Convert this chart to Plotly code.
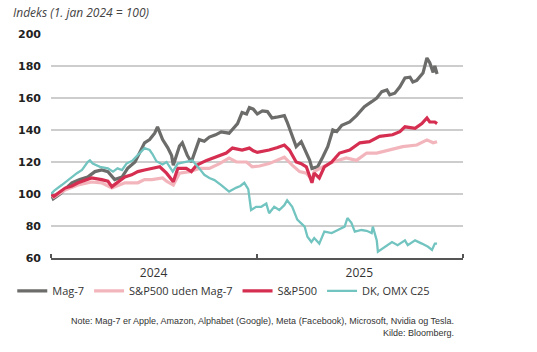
import plotly.graph_objects as go

# ---------------- data ----------------
mag7_dates = ["2024-01-01","2024-01-05","2024-01-17","2024-01-28","2024-02-07","2024-02-21","2024-03-06","2024-03-19",
              "2024-03-31","2024-04-11","2024-04-23","2024-05-06","2024-05-16","2024-05-29","2024-06-06","2024-06-15",
              "2024-06-24","2024-07-03","2024-07-08","2024-07-17","2024-07-26","2024-08-02","2024-08-05","2024-08-16",
              "2024-08-21","2024-08-30","2024-09-06","2024-09-12","2024-09-20","2024-09-29","2024-10-08","2024-10-19",
              "2024-10-29","2024-11-12","2024-11-27","2024-12-05","2024-12-13","2024-12-18","2024-12-25","2025-01-01",
              "2025-01-10","2025-01-19","2025-01-27","2025-02-04","2025-02-18","2025-02-23","2025-03-02","2025-03-11",
              "2025-03-20","2025-03-26","2025-04-04","2025-04-08","2025-04-18","2025-04-27","2025-05-06","2025-05-15",
              "2025-05-22","2025-05-31","2025-06-14","2025-06-26","2025-07-10","2025-07-23","2025-08-01","2025-08-10",
              "2025-08-19","2025-08-24","2025-09-02","2025-09-11","2025-09-20","2025-09-29","2025-10-04","2025-10-11",
              "2025-10-22","2025-10-29","2025-11-03","2025-11-09","2025-11-12","2025-11-16"]
mag7_values = [100, 97, 100, 104, 107, 109, 110.6, 114,
               115, 114, 109, 110.6, 116, 120, 126, 132,
               134, 138, 142, 134, 129, 124, 118, 130,
               132, 124, 120, 126, 134, 133, 135.6, 137,
               138.8, 138, 144, 151, 150, 154, 153, 150,
               152, 151.5, 147.5, 148, 149, 145, 138, 129.6,
               132.7, 127.5, 121, 116, 117, 123, 129.6, 140,
               139, 143, 145, 149, 154.6, 157.7, 160, 164,
               165, 162, 163, 167, 172.5, 173, 170, 171,
               175.6, 185, 182, 176, 180, 175]

sp_dates = ["2024-01-01","2024-01-06","2024-01-26","2024-02-07","2024-02-18","2024-03-01","2024-03-13","2024-03-31",
            "2024-04-11","2024-04-18","2024-04-28","2024-05-11","2024-05-23","2024-06-03","2024-06-15","2024-06-28",
            "2024-07-12","2024-07-24","2024-08-05","2024-08-13","2024-08-28","2024-09-06","2024-09-15","2024-10-03",
            "2024-10-20","2024-11-07","2024-11-18","2024-12-05","2024-12-18","2024-12-25","2025-01-01","2025-01-10",
            "2025-01-22","2025-02-06","2025-02-18","2025-02-27","2025-03-11","2025-03-20","2025-03-29","2025-04-08",
            "2025-04-12","2025-04-21","2025-04-30","2025-05-13","2025-05-27","2025-06-14","2025-07-02","2025-07-19",
            "2025-08-06","2025-08-29","2025-09-11","2025-09-20","2025-10-08","2025-10-20","2025-10-29","2025-11-03",
            "2025-11-12","2025-11-16"]
sp_values = [100, 98.5, 103.7, 105, 107, 108.5, 110, 109,
             108, 104.6, 107, 110.6, 112, 114, 115, 116,
             117, 113, 107.7, 116, 116, 114, 118, 121,
             123, 125.6, 128.7, 127.5, 128.7, 127, 126, 126.5,
             127.5, 129, 130.6, 127.5, 120, 119, 117, 107,
             113, 110, 117, 120, 125.6, 127.5, 132, 132.7,
             136, 137, 139, 142, 141, 144, 147.5, 145,
             145, 144]

exmag_dates = ["2024-01-01","2024-01-06","2024-01-26","2024-02-18","2024-03-13","2024-03-31","2024-04-18","2024-05-11",
               "2024-06-03","2024-06-15","2024-06-28","2024-07-17","2024-07-24","2024-08-05","2024-08-16","2024-09-03",
               "2024-09-20","2024-10-08","2024-10-26","2024-11-12","2024-11-25","2024-12-13","2024-12-23","2025-01-05",
               "2025-01-22","2025-02-18","2025-03-04","2025-03-17","2025-03-29","2025-04-08","2025-04-12","2025-04-27",
               "2025-05-15","2025-06-08","2025-06-26","2025-07-14","2025-08-01","2025-08-24","2025-09-16","2025-10-11",
               "2025-10-29","2025-11-09","2025-11-16"]
exmag_values = [100, 98, 102.5, 105.6, 107.5, 107, 103.7, 107,
                107, 109, 109, 110, 108, 105.6, 113, 114,
                116, 116, 119, 122.5, 120, 120, 117, 117.5,
                119, 123, 118, 114, 113, 109, 114, 117,
                120, 122.5, 121, 125.6, 125.6, 127.5, 129.6, 130.6,
                133.8, 132, 132.7]

c25_dates = ["2024-01-01","2024-01-08","2024-01-20","2024-02-07","2024-02-16","2024-02-25","2024-03-06","2024-03-10",
             "2024-03-15","2024-03-28","2024-04-11","2024-04-20","2024-04-28","2024-05-06","2024-05-14","2024-05-25",
             "2024-06-03","2024-06-15","2024-06-24","2024-06-29","2024-07-06","2024-07-17","2024-07-24","2024-08-04",
             "2024-08-13","2024-08-28","2024-09-08","2024-09-20","2024-09-29","2024-10-08","2024-10-17","2024-10-29",
             "2024-11-12","2024-11-25","2024-12-02","2024-12-09","2024-12-16","2024-12-21","2024-12-30","2025-01-08",
             "2025-01-17","2025-01-22","2025-01-31","2025-02-09","2025-02-18","2025-02-23","2025-03-04","2025-03-13",
             "2025-03-26","2025-03-31","2025-04-07","2025-04-12","2025-04-21","2025-04-30","2025-05-13","2025-05-24",
             "2025-06-05","2025-06-10","2025-06-17","2025-06-23","2025-07-05","2025-07-14","2025-07-23","2025-07-25",
             "2025-08-01","2025-08-03","2025-08-15","2025-08-28","2025-09-07","2025-09-20","2025-09-25","2025-10-08",
             "2025-10-20","2025-10-31","2025-11-07","2025-11-12","2025-11-16"]
c25_values = [100, 102.5, 105.6, 110.6, 113, 115, 120, 121,
              119, 117, 116, 114, 116, 115, 119, 121,
              124.4, 128.7, 127.5, 125, 120.5, 118.5, 120, 114,
              119, 120, 121, 116, 112, 110, 108.7, 105.6,
              101.5, 104, 105, 107, 103, 90, 92, 92,
              94, 88, 92, 90, 93, 96, 92, 84,
              79.6, 73.3, 70, 72.5, 69, 76.5, 75.6, 77.5,
              79.6, 85, 82, 76.5, 77.5, 77, 75.6, 79.6,
              71, 64, 67, 70, 68, 71, 68, 71,
              69, 67, 65, 69, 69]

series_names = ["Mag-7", "S&P500 uden Mag-7", "S&P500", "DK, OMX C25"]
year_ticks = ["2024-07-01", "2025-07-01"]
year_labels = ["2024", "2025"]

# ---------------- figure ----------------
fig = go.Figure()
fig.add_trace(go.Scatter(x=mag7_dates, y=mag7_values, mode="lines", name=series_names[0],
                         line=dict(color="#6c6c6b", width=3.2)))
fig.add_trace(go.Scatter(x=exmag_dates, y=exmag_values, mode="lines", name=series_names[1],
                         line=dict(color="#f3b5bc", width=3.2)))
fig.add_trace(go.Scatter(x=sp_dates, y=sp_values, mode="lines", name=series_names[2],
                         line=dict(color="#d52e50", width=3.2)))
fig.add_trace(go.Scatter(x=c25_dates, y=c25_values, mode="lines", name=series_names[3],
                         line=dict(color="#72c4c0", width=2.3)))

fig.update_layout(
    width=537, height=352,
    margin=dict(l=51, r=74, t=34, b=94),
    paper_bgcolor="white", plot_bgcolor="white",
    font=dict(family="Open Sans, Liberation Sans, sans-serif", color="#333333", size=11),
    showlegend=True,
    legend=dict(orientation="h", x=-0.094, xanchor="left", y=-0.147, yanchor="middle",
                font=dict(size=11, color="#333333"), itemwidth=30, bgcolor="rgba(0,0,0,0)"),
    xaxis=dict(
        type="date", range=["2024-01-01", "2026-01-01"],
        tickvals=year_ticks, ticktext=year_labels, ticks="",
        tickfont=dict(size=12, color="#333333"), ticklabelstandoff=3,
        showgrid=False, showline=True, linecolor="#555555", linewidth=1.5,
        minor=dict(ticks="inside", tick0="2024-01-01", dtick="M12", ticklen=4,
                   tickcolor="#555555", tickwidth=1.5, showgrid=False),
        zeroline=False,
    ),
    yaxis=dict(
        range=[60, 200], dtick=20, tick0=60,
        tickfont=dict(family="DejaVu Sans, sans-serif", size=11, color="#222222", weight="bold"),
        showgrid=True, gridcolor="#cdcdcd", gridwidth=1.5,
        ticks="", ticklabelstandoff=9, zeroline=False, showline=False,
    ),
)

fig.add_annotation(text="<i>Indeks (1. jan 2024 = 100)</i>", xref="paper", yref="paper",
                   x=-0.097, y=1.098, xanchor="left", yanchor="middle", showarrow=False,
                   font=dict(size=12, color="#444444"))
fig.add_annotation(text="Note: Mag-7 er Apple, Amazon, Alphabet (Google), Meta (Facebook), Microsoft, Nvidia og Tesla.<br>Kilde: Bloomberg.",
                   xref="paper", yref="paper", x=0.983, y=-0.308, xanchor="right", yanchor="middle",
                   align="right", showarrow=False,
                   font=dict(size=9, color="#333333", family="Liberation Sans, Arial, sans-serif"))

fig.write_html("out.html")
